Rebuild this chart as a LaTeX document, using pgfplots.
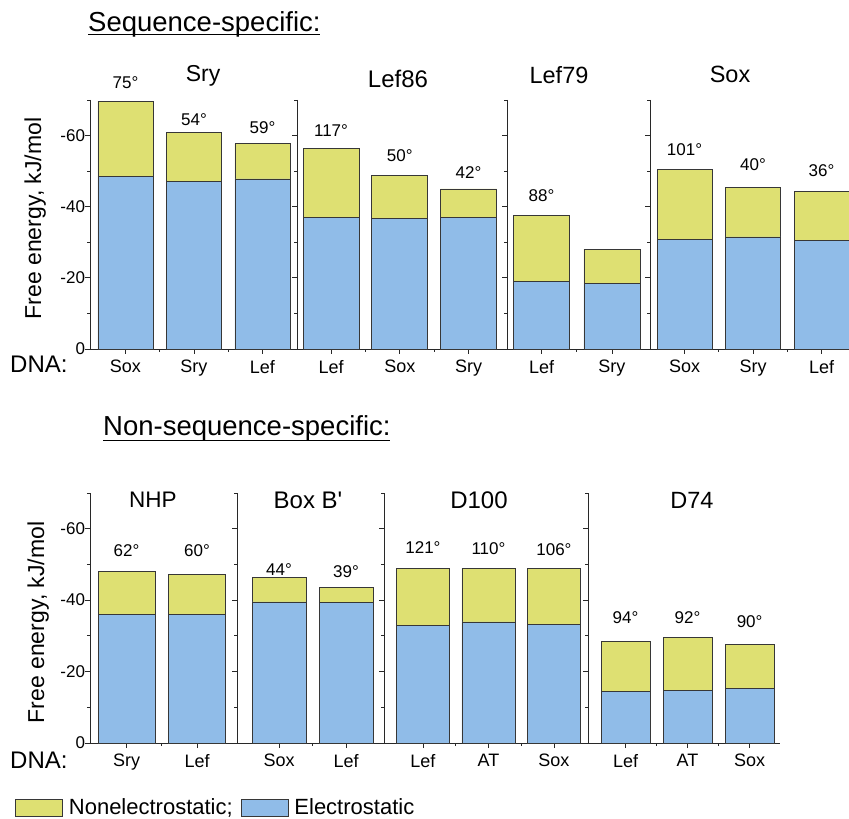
\documentclass[border=0pt]{standalone}
\usepackage{pgfplots}
\usepackage{pgfplotstable}
\pgfplotsset{compat=1.18}
\usepackage{fontspec}
\setmainfont{Liberation Sans}
\definecolor{nonel}{RGB}{222,224,114}
\definecolor{elec}{RGB}{144,188,232}
\definecolor{edge}{RGB}{55,55,55}
\definecolor{axc}{RGB}{40,40,40}
\newcommand\fs[1]{\fontsize{#1}{#1}\selectfont}

% top panel
\pgfplotstableread{
x el ne
0 -48.4 -21.3
1 -47.1 -13.7
2 -47.8 -9.9
}\tSry
\pgfplotstableread{
x el ne
0 -37.0 -19.3
1 -36.8 -11.9
2 -37.0 -8.0
}\tLefA
\pgfplotstableread{
x el ne
0 -19.0 -18.5
1 -18.4 -9.7
}\tLefB
\pgfplotstableread{
x el ne
0 -30.9 -19.5
1 -31.5 -14.0
2 -30.6 -13.6
}\tSox
% bottom panel
\pgfplotstableread{
x el ne
0 -35.9 -12.1
1 -36.1 -11.2
}\tNHP
\pgfplotstableread{
x el ne
0 -39.5 -6.9
1 -39.4 -4.2
}\tBox
\pgfplotstableread{
x el ne
0 -32.9 -16.1
1 -33.9 -15.1
2 -33.1 -15.9
}\tDA
\pgfplotstableread{
x el ne
0 -14.4 -14.1
1 -14.7 -14.9
2 -15.4 -12.3
}\tDB

\pgfplotsset{
  grp/.style={
    scale only axis, anchor=south west,
    ymin=-70, ymax=0, y dir=reverse,
    axis x line=bottom, axis y line=left,
    axis line style={-, draw=axc, line width=0.9pt},
    every tick/.style={draw=axc, line width=0.9pt},
    tick align=outside,
    major tick length=5pt, minor tick length=3pt,
    ytick={0,-20,-40,-60}, minor ytick={-10,-30,-50,-70},
    yticklabels={},
    yticklabel style={font=\fs{17}, xshift=3.5pt},
    xticklabel style={font=\fs{18}, yshift=-2.5pt},
    ybar stacked,
    clip=false,
  },
  el/.style={fill=elec, draw=edge, line width=0.7pt},
  ne/.style={fill=nonel, draw=edge, line width=0.7pt},
}

\begin{document}
\begin{tikzpicture}[x=1pt,y=1pt]
\useasboundingbox (0,0) rectangle (849,819);

% ---------------- top panel ----------------
\begin{axis}[grp, at={(90pt,470pt)}, width=207pt, height=249pt,
  xmin=-0.518, xmax=2.504, bar width=55pt,
  xtick={0,1,2}, minor xtick={0.5,1.5}, xticklabels={Sox,Sry,Lef},
  yticklabels={0,-20,-40,-60}]
\addplot[el] table[x=x,y=el]{\tSry};
\addplot[ne] table[x=x,y=ne]{\tSry};
\node[font=\fs{17}] at (axis cs:0,-74.8) {75°};
\node[font=\fs{17}] at (axis cs:1,-64.5) {54°};
\node[font=\fs{17}] at (axis cs:2,-62.3) {59°};
\end{axis}

\begin{axis}[grp, at={(297pt,470pt)}, width=210pt, height=249pt,
  xmin=-0.495, xmax=2.56, bar width=56pt,
  xtick={0,1,2}, minor xtick={0.5,1.5}, xticklabels={Lef,Sox,Sry}]
\addplot[el] table[x=x,y=el]{\tLefA};
\addplot[ne] table[x=x,y=ne]{\tLefA};
\node[font=\fs{17}] at (axis cs:0,-61.4) {117°};
\node[font=\fs{17}] at (axis cs:1,-54.4) {50°};
\node[font=\fs{17}] at (axis cs:2,-49.6) {42°};
\end{axis}

\begin{axis}[grp, at={(507pt,470pt)}, width=143pt, height=249pt,
  xmin=-0.49, xmax=1.54, bar width=56pt,
  xtick={0,1}, minor xtick={0.5}, xticklabels={Lef,Sry}]
\addplot[el] table[x=x,y=el]{\tLefB};
\addplot[ne] table[x=x,y=ne]{\tLefB};
\node[font=\fs{17}] at (axis cs:0,-43.2) {88°};
\end{axis}

\begin{axis}[grp, at={(650pt,470pt)}, width=199pt, height=249pt,
  xmin=-0.504, xmax=2.40, bar width=55pt,
  xtick={0,1,2}, minor xtick={0.5,1.5}, xticklabels={Sox,Sry,Lef}]
\addplot[el] table[x=x,y=el]{\tSox};
\addplot[ne] table[x=x,y=ne]{\tSox};
\node[font=\fs{17}] at (axis cs:0,-56.1) {101°};
\node[font=\fs{17}] at (axis cs:1,-51.7) {40°};
\node[font=\fs{17}] at (axis cs:2,-50.2) {36°};
\end{axis}

% ---------------- bottom panel ----------------
\begin{axis}[grp, at={(90pt,76pt)}, width=147pt, height=250pt,
  xmin=-0.518, xmax=1.567, bar width=57pt,
  xtick={0,1}, minor xtick={0.5}, xticklabels={Sry,Lef},
  yticklabels={0,-20,-40,-60},
  reverse legend,
  legend style={draw=none, fill=none, inner sep=0pt,
    nodes={inner sep=0pt},
    at={(-0.5646,-0.259)}, anchor=west, legend columns=-1,
    font=\fs{22}},
  legend image code/.code={\path (-8pt,0pt) (53pt,0pt);
    \draw[#1] (0pt,-8.5pt) rectangle (47pt,8.5pt);}]
\addplot[el] table[x=x,y=el]{\tNHP};
\addlegendentry{Electrostatic}
\addplot[ne] table[x=x,y=ne]{\tNHP};
\addlegendentry{Nonelectrostatic;}
\node[font=\fs{17}] at (axis cs:0,-54.0) {62°};
\node[font=\fs{17}] at (axis cs:1,-54.0) {60°};
\end{axis}

\begin{axis}[grp, at={(237pt,76pt)}, width=147pt, height=250pt,
  xmin=-0.627, xmax=1.567, bar width=54pt,
  xtick={0,1}, minor xtick={0.5}, xticklabels={Sox,Lef}]
\addplot[el] table[x=x,y=el]{\tBox};
\addplot[ne] table[x=x,y=ne]{\tBox};
\node[font=\fs{17}] at (axis cs:0,-48.7) {44°};
\node[font=\fs{17}] at (axis cs:1,-48.1) {39°};
\end{axis}

\begin{axis}[grp, at={(384pt,76pt)}, width=204pt, height=250pt,
  xmin=-0.595, xmax=2.52, bar width=53pt,
  xtick={0,1,2}, minor xtick={0.5,1.5}, xticklabels={Lef,AT,Sox}]
\addplot[el] table[x=x,y=el]{\tDA};
\addplot[ne] table[x=x,y=ne]{\tDA};
\node[font=\fs{17}] at (axis cs:0,-54.7) {121°};
\node[font=\fs{17}] at (axis cs:1,-54.3) {110°};
\node[font=\fs{17}] at (axis cs:2,-54.1) {106°};
\end{axis}

\begin{axis}[grp, at={(588pt,76pt)}, width=192pt, height=250pt,
  xmin=-0.605, xmax=2.49, bar width=49pt,
  xtick={0,1,2}, minor xtick={0.5,1.5}, xticklabels={Lef,AT,Sox}]
\addplot[el] table[x=x,y=el]{\tDB};
\addplot[ne] table[x=x,y=ne]{\tDB};
\node[font=\fs{17}] at (axis cs:0,-35.1) {94°};
\node[font=\fs{17}] at (axis cs:1,-35.1) {92°};
\node[font=\fs{17}] at (axis cs:2,-33.9) {90°};
\end{axis}

% ---------------- texts ----------------
\node[font=\fs{27.5}, anchor=base west, inner sep=0pt] at (88,787) {Sequence-specific:};
\draw[line width=1.4pt] (88,784.7) -- (320,784.7);
\node[font=\fs{27.5}, anchor=base west, inner sep=0pt] at (103,383) {Non-sequence-specific:};
\draw[line width=1.4pt] (103,378.7) -- (390,378.7);

\node[font=\fs{23}] at (203,743.5) {Sry};
\node[font=\fs{24}] at (398,740.5) {Lef86};
\node[font=\fs{23.5}] at (559,744) {Lef79};
\node[font=\fs{23.5}] at (730,744.5) {Sox};
\node[font=\fs{22.5}] at (153,319) {NHP};
\node[font=\fs{24}] at (308,319) {Box B\textquotesingle};
\node[font=\fs{24}] at (479,319) {D100};
\node[font=\fs{23.5}] at (692,319) {D74};

\node[font=\fs{24}, anchor=base west, inner sep=0pt] at (10,446) {DNA:};
\node[font=\fs{24}, anchor=base west, inner sep=0pt] at (10,50) {DNA:};

\node[font=\fs{23}, rotate=90, anchor=base, inner sep=0pt] at (41,600.5) {Free energy, kJ/mol};
\node[font=\fs{23}, rotate=90, anchor=base, inner sep=0pt] at (44,196.5) {Free energy, kJ/mol};
\end{tikzpicture}
\end{document}
